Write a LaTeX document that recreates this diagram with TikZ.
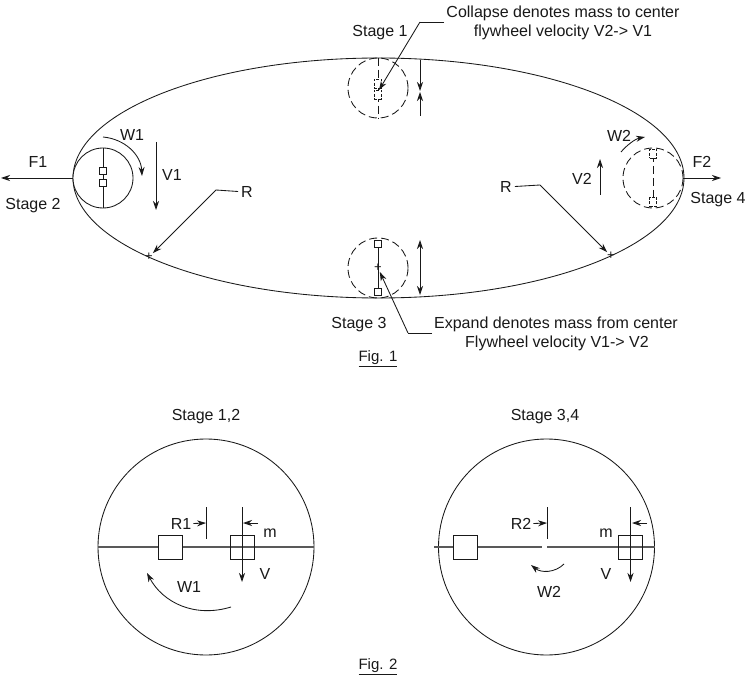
\documentclass[tikz,border=0pt]{standalone}
\usepackage{fontspec}
\setmainfont{Liberation Sans}
\usetikzlibrary{arrows.meta}
\definecolor{ink}{gray}{0.1}
\definecolor{shaft}{gray}{0.35}
\tikzset{
  lbl/.style={inner sep=0pt,text=ink,yshift=-1.5pt,font=\fontsize{16}{18}\selectfont},
  ln/.style={draw=ink,line width=0.85pt},
  arr/.style={ln,-{Stealth[length=9pt,width=6pt]}},
  dashline/.style={ln,dash pattern=on 8pt off 4pt},
  mass/.style={draw=ink,fill=white,line width=0.85pt,inner sep=0pt,minimum size=7pt},
  massdash/.style={mass,minimum height=9pt,dash pattern=on 3pt off 1.5pt},
  bigmass/.style={draw=ink,fill=none,line width=1pt,inner sep=0pt,minimum size=24pt},
  bigline/.style={draw=shaft,line width=1.3pt},
  wheel/.style={circle,draw=ink,line width=0.85pt,inner sep=0pt,minimum size=60pt,fill=white},
  wheeldash/.style={wheel,fill=none,dash pattern=on 8pt off 4pt},
  bigwheel/.style={circle,draw=ink,line width=0.85pt,inner sep=0pt,minimum size=216pt},
  plusmark/.style={font=\fontsize{13}{13}\selectfont,inner sep=0pt,text=ink}
}
\begin{document}
\begin{tikzpicture}[x=1pt,y=-1pt]
\useasboundingbox (0,0) rectangle (747,676);
\fill[white] (0,0) rectangle (747,676);
% Fig 1 orbit
\draw[ln] (378.5,178) ellipse [x radius=305.5pt,y radius=120pt];
% wheels
\node[wheel] (wL) at (103,178) {};
\node[wheeldash] (wT) at (378,88) {};
\node[wheeldash] (wB) at (378,268) {};
\node[wheeldash] (wR) at (653,178) {};
% left wheel contents
\draw[ln] (wL.north) -- (wL.south);
\node[mass] (mL1) at (103,170.5) {};
\node[mass] (mL2) at (103,183) {};
% top wheel
\draw[dashline] (wT.north) -- (wT.south);
\node[massdash] (mT1) at (377.5,83.5) {};
\node[massdash] (mT2) at (377.5,94.5) {};
% bottom wheel
\draw[ln] (378,243) -- (378,292);
\node[mass] (mB1) at (378,243.5) {};
\node[mass] (mB2) at (378,292) {};
\node[plusmark] (cB) at (378,268) {+};
% right wheel
\draw[dashline] (653,154) -- (653,202);
\node[massdash] (mR1) at (653,153.5) {};
\node[massdash] (mR2) at (653,202) {};
% orbit points
\node[plusmark] (pL) at (149,257) {+};
\node[plusmark] (pR) at (611,256) {+};
% texts
\node[lbl] (s1) at (380,31) {Stage 1};
\node[lbl] (s2) at (33,204) {Stage 2};
\node[lbl] (s3) at (359,323) {Stage 3};
\node[lbl] (s4) at (718,198) {Stage 4};
\node[lbl] (c1) at (563,12) {Collapse denotes mass to center};
\node[lbl] (c2) at (563,31) {flywheel velocity V2-> V1};
\node[lbl] (e1) at (556,323) {Expand denotes mass from center};
\node[lbl] (e2) at (557,342) {Flywheel velocity V1-> V2};
\node[lbl] (F1) at (38,160) {F1};
\node[lbl] (F2) at (702,160) {F2};
\node[lbl] (V1) at (172,173) {V1};
\node[lbl] (V2) at (582,177) {V2};
\node[lbl] (W1) at (132,133) {W1};
\node[lbl] (W2) at (619,134) {W2};
\node[lbl] (RL) at (247,190) {R};
\node[lbl] (RR) at (506,185) {R};
\node[lbl] (fig1) at (378,357) {\fontsize{15}{16}\selectfont\underline{Fig. 1}};
% fig 1 force & motion
\coordinate (f1end) at (1,178);
\coordinate (f2end) at (721,178);
\draw[arr] (wL.west) -- (f1end);
\draw[arr] (wR.east) -- (f2end);
\coordinate (v1a) at (156,142); \coordinate (v1b) at (156,210);
\draw[arr] (v1a) -- (v1b);
\coordinate (v2a) at (600,195); \coordinate (v2b) at (600,159);
\draw[arr] (v2a) -- (v2b);
\coordinate (w1a) at (103,137); \coordinate (w1b) at (142,176);
\draw[arr] (w1a) .. controls (125,139) and (141,155) .. (w1b);
\coordinate (w2a) at (621,152); \coordinate (w2b) at (645,137);
\draw[arr] (w2a) .. controls (627,145) and (635,139) .. (w2b);
% leaders
\coordinate (lL) at (216,190);
\draw[ln] (RL.west)+(-3,0) -- (lL);
\draw[arr] (lL) -- (pL);
\coordinate (lR) at (540,185);
\draw[ln] (RR.east)+(3,0) -- (lR);
\draw[arr] (lR) -- (pR);
\coordinate (lc) at (420,22);
\coordinate (lca) at (444,22);
\coordinate (lct) at (379,90);
\draw[ln] (lca) -- (lc);
\draw[arr] (lc) -- (lct);
\coordinate (le) at (408,333);
\coordinate (lea) at (432,333);
\draw[ln] (lea) -- (le);
\draw[arr] (le) -- (cB);
% top & bottom motion arrows
\coordinate (ta) at (420,60); \coordinate (tb) at (420,91);
\coordinate (tc) at (420,116); \coordinate (td) at (420,92);
\draw[arr] (ta) -- (tb);
\draw[arr] (tc) -- (td);
\coordinate (ba) at (420,240); \coordinate (bb) at (420,295);
\draw[ln,{Stealth[length=9pt,width=6pt]}-{Stealth[length=9pt,width=6pt]}] (ba) -- (bb);
% Fig 2 left
\node[bigwheel] (bL) at (206,547) {};
\node[lbl] (st12) at (206,415) {Stage 1,2};
\draw[bigline] (bL.west) -- (bL.east);
\node[bigmass,fill=white] (bL1) at (170.5,547) {};
\node[bigmass] (bL2) at (242,547) {};
\coordinate (r1a) at (206,507); \coordinate (r1b) at (206,539);
\draw[ln] (r1a) -- (r1b);
\coordinate (r1c) at (206,523);
\node[lbl] (R1) at (181,522) {R1};
\draw[arr] (R1.east)+(2,0) -- (r1c);
\coordinate (vLa) at (242,507); \coordinate (vLb) at (242,582);
\draw[arr] (vLa) -- (vLb);
\coordinate (mLa) at (258,523); \coordinate (mLb) at (243,523);
\draw[arr] (mLa) -- (mLb);
\node[lbl] (mL) at (270,532) {m};
\node[lbl] (VL) at (265,572) {V};
\node[lbl] (W1b) at (189,585) {W1};
\coordinate (awa) at (231,607); \coordinate (awb) at (147,573);
\draw[arr] (awa) .. controls (195,618) and (163,603) .. (awb);
% Fig 2 right
\node[bigwheel] (bR) at (546.5,547) {};
\node[lbl] (st34) at (545,415) {Stage 3,4};
\coordinate (rla) at (434,547); \coordinate (rlb) at (542,547);
\coordinate (rlc) at (547,547);
\draw[bigline] (rla) -- (rlb);
\draw[bigline] (rlc) -- (bR.east);
\node[bigmass,fill=white] (bR1) at (465,547) {};
\node[bigmass] (bR2) at (630.5,547) {};
\coordinate (r2a) at (547,507); \coordinate (r2b) at (547,539);
\draw[ln] (r2a) -- (r2b);
\coordinate (r2c) at (547,523);
\node[lbl] (R2) at (521,522) {R2};
\draw[arr] (R2.east)+(2,0) -- (r2c);
\coordinate (vRa) at (630.5,507); \coordinate (vRb) at (630.5,582);
\draw[arr] (vRa) -- (vRb);
\coordinate (mRa) at (647,523); \coordinate (mRb) at (632,523);
\draw[arr] (mRa) -- (mRb);
\node[lbl] (mR) at (606,532) {m};
\node[lbl] (VR) at (606,572) {V};
\node[lbl] (W2b) at (549,590) {W2};
\coordinate (bwa) at (564,564); \coordinate (bwb) at (531,565);
\draw[arr] (bwa) .. controls (555,573) and (541,573) .. (bwb);
\node[lbl] (fig2) at (378,665) {\fontsize{15}{16}\selectfont\underline{Fig. 2}};
\end{tikzpicture}
\end{document}
